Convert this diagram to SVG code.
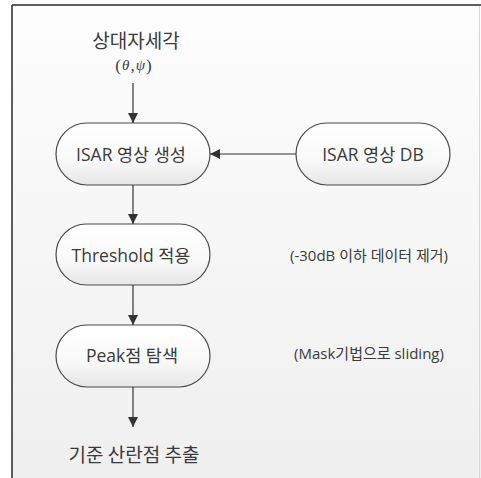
<svg xmlns="http://www.w3.org/2000/svg" width="481" height="478" viewBox="0 0 481 478">
  <defs>
    <linearGradient id="bg" x1="0" y1="0" x2="0" y2="1">
      <stop offset="0" stop-color="#fdfdfd"/>
      <stop offset="1" stop-color="#efefef"/>
    </linearGradient>
    <linearGradient id="nodeFill" x1="0" y1="0" x2="0" y2="1">
      <stop offset="0" stop-color="#ffffff"/>
      <stop offset="0.6" stop-color="#f9f9f9"/>
      <stop offset="1" stop-color="#e6e6e6"/>
    </linearGradient>
    <marker id="arrow" viewBox="0 0 10 10" refX="10" refY="5" markerWidth="10" markerHeight="10" markerUnits="userSpaceOnUse" orient="auto">
      <path d="M0,0 L10,5 L0,10 z" fill="#333333"/>
    </marker>
  </defs>
  <style>
    .node rect { fill: url(#nodeFill); stroke: #4a4a4a; stroke-width: 1.2; }
    .label { font-family: "Open Sans", "Noto Sans CJK KR", sans-serif; font-size: 17.5px; fill: #3a3a3a; text-anchor: middle; dominant-baseline: central; }
    .note { font-family: "Open Sans", "Noto Sans CJK KR", sans-serif; font-size: 15px; fill: #3a3a3a; text-anchor: middle; dominant-baseline: central; }
    .title { font-family: "Noto Sans CJK KR", sans-serif; font-size: 19px; fill: #3a3a3a; text-anchor: middle; dominant-baseline: central; }
    .math { font-family: "Liberation Serif", serif; font-size: 17px; fill: #3a3a3a; text-anchor: middle; dominant-baseline: central; letter-spacing: 1px; }
    .conn line { stroke: #333333; stroke-width: 1.2; marker-end: url(#arrow); }
  </style>
  <rect x="0" y="0" width="481" height="478" fill="#ffffff"/>
  <rect x="12" y="5" width="469" height="473" fill="url(#bg)"/>
  <line x1="12" y1="5" x2="481" y2="5" stroke="#2a2a2a" stroke-width="1.5"/>
  <line x1="12" y1="5" x2="12" y2="478" stroke="#2a2a2a" stroke-width="1.5"/>
  <line x1="479.5" y1="6" x2="479.5" y2="478" stroke="#d8d8d8" stroke-width="1"/>

  <g id="input">
    <text class="title" x="136" y="39">상대자세각</text>
    <text class="math" x="134" y="65">(<tspan font-style="italic" font-size="15">θ</tspan>,<tspan font-style="italic" font-size="15">ψ</tspan>)</text>
  </g>

  <g id="isar-gen" class="node">
    <rect x="56" y="123" width="154" height="62" rx="31" ry="31"/>
    <text class="label" x="131" y="154">ISAR 영상 생성</text>
  </g>

  <g id="isar-db" class="node">
    <rect x="296" y="123" width="154" height="62" rx="31" ry="31"/>
    <text class="label" x="373" y="154">ISAR 영상 DB</text>
  </g>

  <g id="threshold" class="node">
    <rect x="56" y="224" width="154" height="61" rx="30.5" ry="30.5"/>
    <text class="label" x="131" y="254.5">Threshold 적용</text>
  </g>

  <g id="threshold-note">
    <text class="note" x="369" y="255">(-30dB 이하 데이터 제거)</text>
  </g>

  <g id="peak" class="node">
    <rect x="56" y="325" width="154" height="62" rx="31" ry="31"/>
    <text class="label" x="132" y="355">Peak점 탐색</text>
  </g>

  <g id="peak-note">
    <text class="note" x="369" y="353">(Mask기법으로 sliding)</text>
  </g>

  <g id="output">
    <text class="title" x="134" y="453">기준 산란점 추출</text>
  </g>

  <g id="connectors" class="conn">
    <line x1="133" y1="83" x2="133" y2="123"/>
    <line x1="296" y1="154" x2="210" y2="154"/>
    <line x1="133" y1="185" x2="133" y2="224"/>
    <line x1="133" y1="285" x2="133" y2="325"/>
    <line x1="133" y1="387" x2="133" y2="427"/>
  </g>
</svg>
